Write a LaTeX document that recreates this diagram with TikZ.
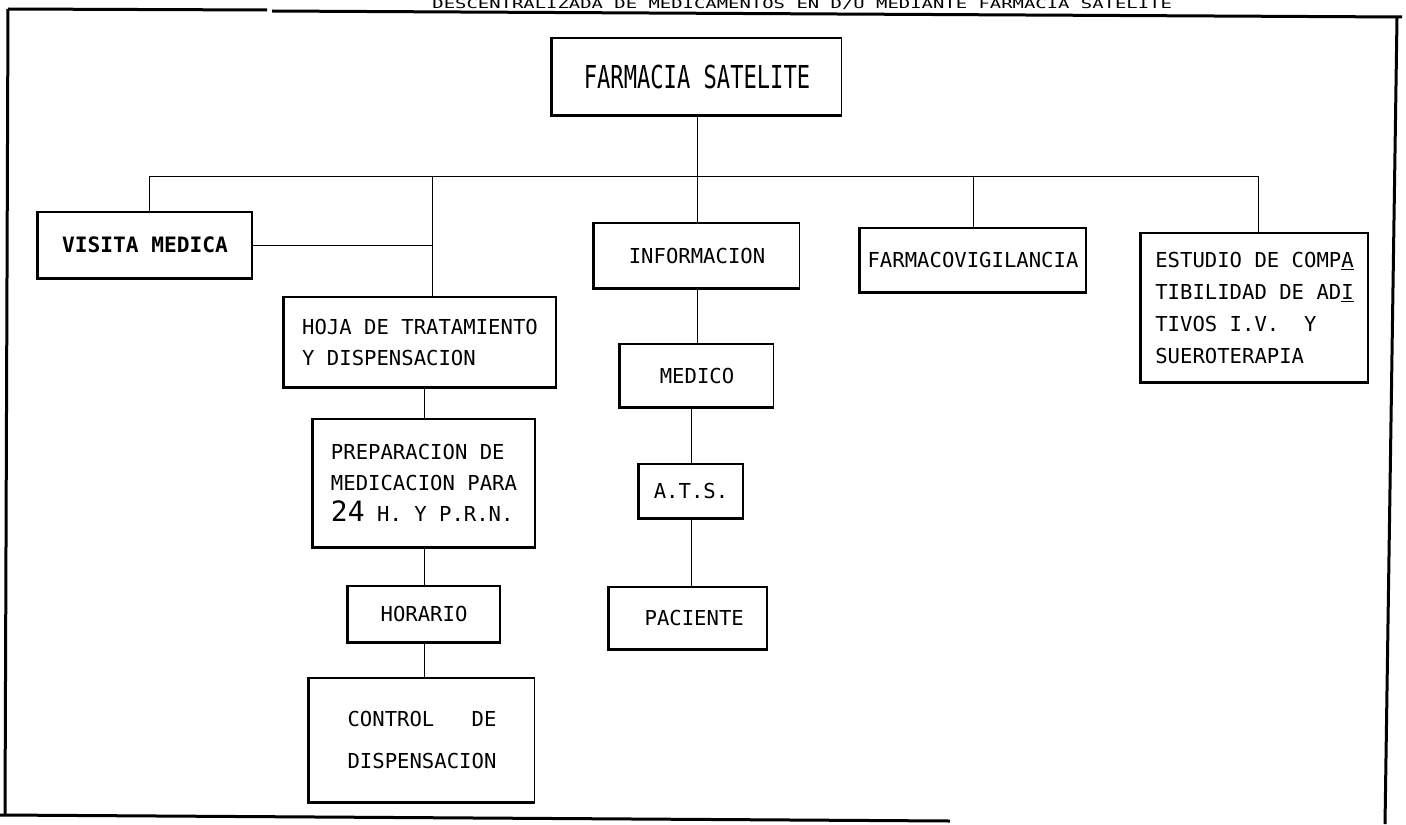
\documentclass[tikz,border=0pt]{standalone}
\usepackage{fontspec}
\setmonofont{DejaVu Sans Mono}
\newfontfamily\condfont[FakeStretch=0.7]{DejaVu Sans Mono}
\newfontfamily\widefont[FakeStretch=1.5]{DejaVu Sans Mono}

\begin{document}
\begin{tikzpicture}[x=0.5pt,y=-0.5pt,
    box/.style={draw, line width=0.7pt, inner sep=0pt, align=left,
      font=\ttfamily\fontsize{10.3}{15.5}\selectfont},
    link/.style={line width=0.5pt},
    frame/.style={line width=1.5pt}]
  \useasboundingbox (0,0) rectangle (1406,824);
  \node[anchor=base west, inner sep=0pt,
    font=\widefont\fontsize{6.3}{8}\selectfont] (title) at (432,9)
    {DESCENTRALIZADA DE MEDICAMENTOS EN D/U MEDIANTE FARMACIA SATELITE};
  % outer frame
  \draw[frame] (8,9) -- (267,10);
  \draw[frame] (272,11) -- (1402,17);
  \draw[frame] (8,9) -- (5,816);
  \draw[frame] (0,815) -- (950,821);
  \draw[frame] (1397,17) -- (1385,824);

  \node[box, minimum width=144.5pt, minimum height=38.5pt,
    font=\condfont\fontsize{15.8}{18}\selectfont] (fs) at (697,76.5)
    {FARMACIA  SATELITE};
  \node[box, minimum width=107pt, minimum height=33pt,
    font=\ttfamily\bfseries\fontsize{10.6}{15.5}\selectfont] (visita) at (145,245)
    {VISITA MEDICA};
  \node[box, minimum width=136pt, minimum height=45pt] (hoja) at (420,342)
    {HOJA DE TRATAMIENTO\\Y DISPENSACION};
  \node[box, minimum width=111pt, minimum height=64pt] (prep) at (424,483)
    {PREPARACION DE\\MEDICACION PARA\\{\fontsize{14}{15.5}\selectfont 24} H. Y P.R.N.};
  \node[box, minimum width=76pt, minimum height=28pt] (horario) at (424,614)
    {HORARIO};
  \node[box, minimum width=112.5pt, minimum height=62pt,
    font=\ttfamily\fontsize{10.3}{21}\selectfont] (control) at (422,740)
    {CONTROL\ \ \ DE\\DISPENSACION};
  \node[box, minimum width=102.5pt, minimum height=32.5pt] (info) at (697,255.5)
    {INFORMACION};
  \node[box, minimum width=76.5pt, minimum height=31.5pt] (medico) at (697,375.5)
    {MEDICO};
  \node[box, minimum width=52pt, minimum height=27pt] (ats) at (691,491)
    {A.T.S.};
  \node[box, minimum width=79pt, minimum height=31pt] (paciente) at (688,618)
    {\ PACIENTE};
  \node[box, minimum width=113pt, minimum height=32pt] (fvig) at (973,260)
    {FARMACOVIGILANCIA};
  \node[box, minimum width=113.5pt, minimum height=74.5pt,
    font=\ttfamily\fontsize{10.3}{16}\selectfont] (estudio) at (1254.5,307.5)
    {ESTUDIO DE COMP\underline{A}\\TIBILIDAD DE AD\underline{I}\\TIVOS I.V.\ \ Y\\SUEROTERAPIA};

  % heavier left and lower edges
  \foreach \n in {fs,visita,hoja,prep,horario,control,info,medico,ats,paciente,fvig,estudio}
    \draw[line width=1.4pt] (\n.north west) |- (\n.south east);

  % connectors
  \coordinate (bl) at (149,176);
  \coordinate (br) at (1258,176);
  \coordinate (bh) at (432,176);
  \draw[link] (visita.north -| bl) -- (bl) -- (br) -- (estudio.north -| br);
  \draw[link] (fs) -- (info);
  \draw[link] (fvig.north) -- (fvig.north |- bl);
  \draw[link] (bh) -- (hoja.north -| bh);
  \draw[link] (visita.east) -- (visita.east -| bh);
  \draw[link] (hoja.south -| prep) -- (prep);
  \draw[link] (prep) -- (horario);
  \draw[link] (horario.south) -- (horario.south |- control.north);
  \draw[link] (info) -- (medico);
  \draw[link] (medico.south -| ats) -- (ats);
  \draw[link] (ats) -- (paciente.north -| ats);
\end{tikzpicture}
\end{document}
